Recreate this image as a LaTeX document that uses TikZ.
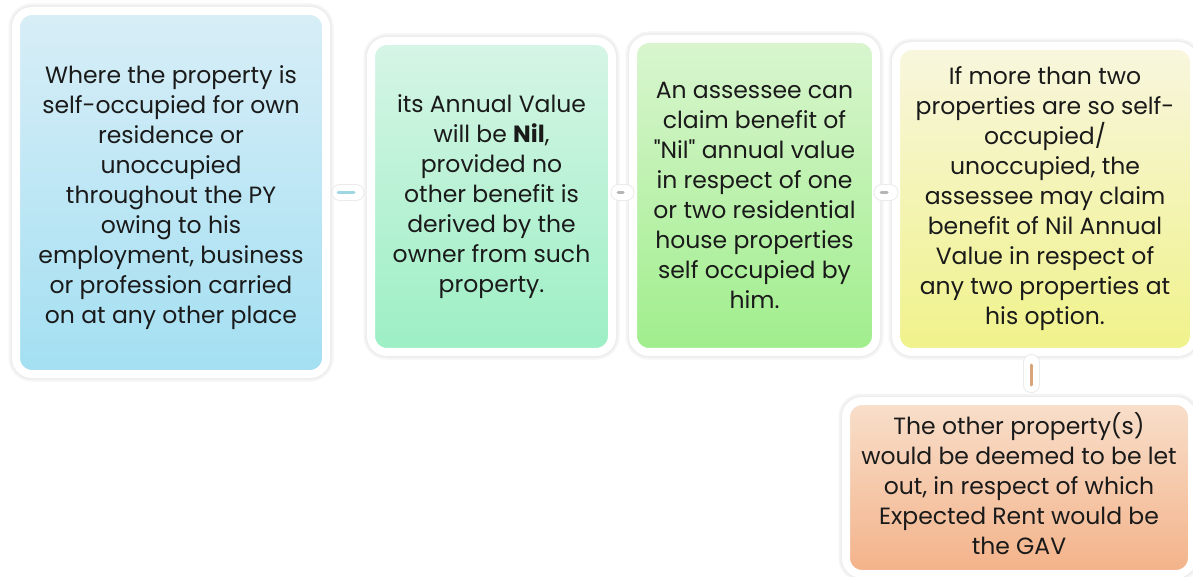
\documentclass[tikz,border=0pt]{standalone}
\usepackage{fontspec}
\setmainfont{Poppins}
\newfontfamily\plainpop{Poppins}
\definecolor{txt}{HTML}{1A1A1A}
\definecolor{bA}{HTML}{D8EEF7}\definecolor{bB}{HTML}{A3DFF2}
\definecolor{gA}{HTML}{D6F5E6}\definecolor{gB}{HTML}{9CEFC4}
\definecolor{lA}{HTML}{D9F5CF}\definecolor{lB}{HTML}{A0EE8C}
\definecolor{yA}{HTML}{F8F6DE}\definecolor{yB}{HTML}{F0F28A}
\definecolor{oA}{HTML}{F8DFCB}\definecolor{oB}{HTML}{F3B289}
\definecolor{barA}{HTML}{9ED6E3}\definecolor{barB}{HTML}{B5B5B5}\definecolor{barC}{HTML}{D8A578}
\begin{document}
\begin{tikzpicture}[x=1pt,y=1pt,
  box/.style={rectangle, rounded corners=16pt, draw=white, line width=8pt,
    align=center, font=\fontsize{23.5}{30}\selectfont, text=txt, inner sep=0pt,
    preaction={draw=black!4, line width=15pt},
    preaction={draw=black!7, line width=11pt}},
  boxtext/.style={align=center, font=\fontsize{23.5}{30}\selectfont, text=txt, inner sep=0pt},
  connbg/.style={draw=black!8, line width=17pt, line cap=round,
    postaction={draw=white, line width=15pt, line cap=round}},
  connfg/.style={draw=#1, line width=3pt, line cap=round}]
\fill[white] (0,0) rectangle (1193,576);
\useasboundingbox (0,0) rectangle (1193,576);

\node[box, top color=bA, bottom color=bB, minimum width=310pt, minimum height=363pt] (b1) at (171,383.5) {};
\node[boxtext] (t1) at ([yshift=-5pt]b1.center)
  {Where the property is\\self-occupied for own\\residence or\\unoccupied\\throughout the PY\\owing to his\\employment, business\\or profession carried\\on at any other place};
\node[box, top color=gA, bottom color=gB, minimum width=241pt, minimum height=311pt] (b2) at (491.5,379.5)
  {its Annual Value\\will be \textbf{Nil},\\provided no\\other benefit is\\derived by the\\owner from such\\property.};
\node[box, top color=lA, bottom color=lB, minimum width=243pt, minimum height=313pt] (b3) at (754.5,380.5)
  {An assessee can\\claim benefit of\\{\plainpop"Nil"} annual value\\in respect of one\\or two residential\\house properties\\self occupied by\\him.};
\node[box, top color=yA, bottom color=yB, minimum width=298pt, minimum height=306pt] (b4) at (1045,377)
  {If more than two\\properties are so self-\\occupied/\\unoccupied, the\\assessee may claim\\benefit of Nil Annual\\Value in respect of\\any two properties at\\his option.};
\node[box, top color=oA, bottom color=oB, minimum width=346pt, minimum height=173pt] (b5) at (1019,88.5) {};
\node[boxtext] (t5) at ([yshift=4pt]b5.center)
  {The other property(s)\\would be deemed to be let\\out, in respect of which\\Expected Rent would be\\the GAV};

\coordinate (cx) at (1031,0);
% connectors
\draw[connbg, shorten <=10pt, shorten >=11pt] (b1.east) -- (b1.east -| b2.west);
\draw[connfg=barA, shorten <=8pt, shorten >=13pt] (b1.east) -- (b1.east -| b2.west);
\draw[connbg, shorten <=3pt, shorten >=3pt] (b2.east |- b1.east) -- (b1.east -| b3.west);
\draw[connfg=barB, shorten <=2pt, shorten >=6pt] (b2.east |- b1.east) -- (b1.east -| b3.west);
\draw[connbg, shorten <=2pt, shorten >=2pt] (b3.east |- b1.east) -- (b1.east -| b4.west);
\draw[connfg=barB, shorten <=1pt, shorten >=5pt] (b3.east |- b1.east) -- (b1.east -| b4.west);
\draw[connbg, shorten <=6.5pt, shorten >=12.5pt] (b4.south -| cx) -- (b5.north -| cx);
\draw[connfg=barC, shorten <=9pt, shorten >=12pt] (b4.south -| cx) -- (b5.north -| cx);
\end{tikzpicture}
\end{document}
